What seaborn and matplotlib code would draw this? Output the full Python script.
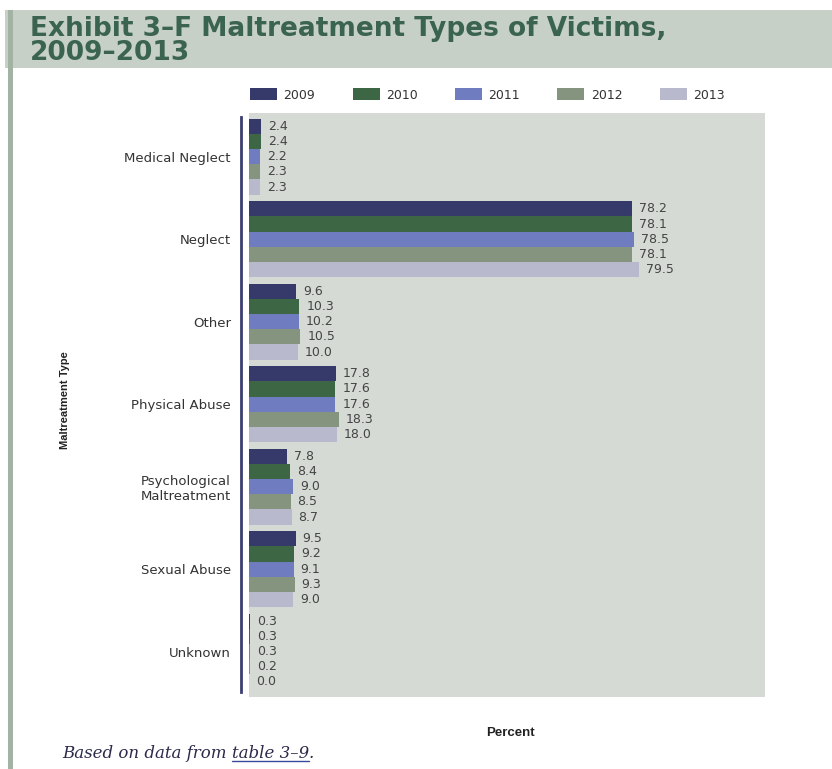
import matplotlib
matplotlib.use("Agg")
import matplotlib.pyplot as plt
import seaborn as sns
import pandas as pd
from matplotlib.lines import Line2D
from matplotlib.patches import Rectangle

categories = ["Medical Neglect", "Neglect", "Other", "Physical Abuse",
              "Psychological\nMaltreatment", "Sexual Abuse", "Unknown"]
years = ["2009", "2010", "2011", "2012", "2013"]
v2009 = [2.4, 78.2, 9.6, 17.8, 7.8, 9.5, 0.3]
v2010 = [2.4, 78.1, 10.3, 17.6, 8.4, 9.2, 0.3]
v2011 = [2.2, 78.5, 10.2, 17.6, 9.0, 9.1, 0.3]
v2012 = [2.3, 78.1, 10.5, 18.3, 8.5, 9.3, 0.2]
v2013 = [2.3, 79.5, 10.0, 18.0, 8.7, 9.0, 0.0]
colors = ["#353a6b", "#3d6645", "#6f7cc0", "#85947f", "#b8b9cd"]

rows = []
for yr, vals in zip(years, [v2009, v2010, v2011, v2012, v2013]):
    for c, v in zip(categories, vals):
        rows.append({"category": c, "year": yr, "value": v})
df = pd.DataFrame(rows)

sns.set_style("white")
plt.rcParams["font.family"] = ["DejaVu Sans"]

W, H = 832, 769
fig = plt.figure(figsize=(W / 100, H / 100), dpi=100)

# frame: title band and left strip
fig.add_artist(Rectangle((5 / W, 1 - 68 / H), 1, 58 / H, transform=fig.transFigure,
                         facecolor="#c6d0c6", edgecolor="none", zorder=0))
fig.add_artist(Rectangle((8 / W, 0), 5 / W, 1 - 10 / H, transform=fig.transFigure,
                         facecolor="#a3b3a3", edgecolor="none", zorder=1))
fig.text(30 / W, 1 - 36 / H, "Exhibit 3–F Maltreatment Types of Victims,",
         fontsize=19, fontweight="bold", color="#3a6350", family="DejaVu Sans",
         va="baseline", ha="left")
fig.text(30 / W, 1 - 60 / H, "2009–2013",
         fontsize=19, fontweight="bold", color="#3a6350", family="DejaVu Sans",
         va="baseline", ha="left")

ax = fig.add_axes([249 / W, 1 - 697 / H, (765 - 249) / W, (697 - 113) / H])
ax.set_facecolor("#d5dad5")
sns.barplot(data=df, x="value", y="category", hue="year", palette=colors,
            orient="h", width=0.92, ax=ax, saturation=1, legend=False,
            edgecolor="none")
ax.set_xlim(0, 105.3)
ax.set_ylim(6.55, -0.53)

for cont in ax.containers:
    ax.bar_label(cont, fmt="%.1f", padding=5, fontsize=9, color="#444444")

for s in ["top", "right", "bottom"]:
    ax.spines[s].set_visible(False)
ax.spines["left"].set_position(("outward", 6))
ax.spines["left"].set_color("#3a3f6e")
ax.spines["left"].set_linewidth(2)
ax.spines["left"].set_bounds(-0.48, 6.49)
ax.set_xticks([])
ax.tick_params(axis="y", length=0, pad=7, labelsize=9.5, labelcolor="#333333")
ax.set_ylabel("")
ax.set_xlabel("")

fig.text(65 / W, 1 - 400 / H, "Maltreatment Type", rotation=90, fontsize=8,
         fontweight="bold", color="#222222", ha="center", va="center",
         family="Liberation Sans")
fig.text(510 / W, 1 - 733 / H, "Percent", fontsize=9.5, fontweight="bold",
         color="#222222", ha="center", va="center", family="Liberation Sans")

# legend
handles = [Rectangle((0, 0), 1, 1, facecolor=c, edgecolor="none") for c in colors]
fig.legend(handles, years, loc="center left", bbox_to_anchor=(250 / W, 1 - 95 / H),
           ncol=5, frameon=False, fontsize=9, handlelength=2.16, handleheight=1.05,
           handletextpad=0.5, columnspacing=3.0, borderpad=0, borderaxespad=0,
           labelcolor="#333333")

# caption with underlined link text
renderer = fig.canvas.get_renderer()
cap_kw = dict(fontsize=12, style="italic", family="DejaVu Serif",
              color="#2a2a4a", va="baseline", ha="left")
y_cap = 1 - 758 / H
t1 = fig.text(62 / W, y_cap, "Based on data from ", **cap_kw)
bb1 = t1.get_window_extent(renderer)
t2 = fig.text(bb1.x1 / W, y_cap, "table 3–9", **cap_kw)
bb2 = t2.get_window_extent(renderer)
t3 = fig.text(bb2.x1 / W, y_cap, ".", **cap_kw)
fig.add_artist(Line2D([bb2.x0 / W, bb2.x1 / W], [y_cap - 3 / H, y_cap - 3 / H],
                      transform=fig.transFigure, color="#3a4a9a", lw=1))

fig.savefig("out.png", dpi=100)
